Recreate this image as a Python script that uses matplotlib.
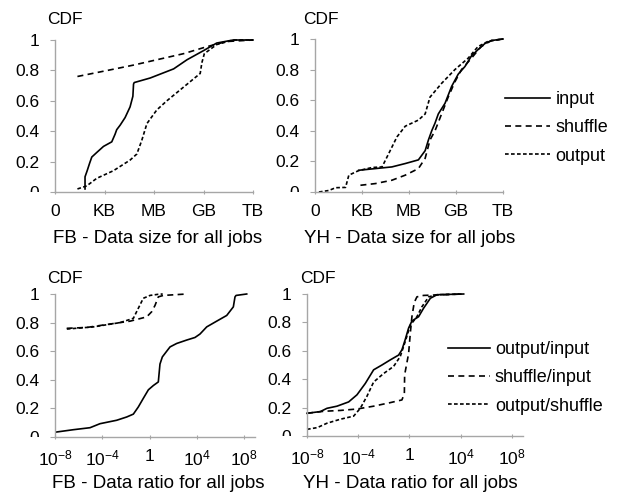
import matplotlib
matplotlib.use("Agg")
import matplotlib.pyplot as plt
from matplotlib.patches import Rectangle

plt.rcParams['font.family'] = ['Liberation Sans', 'DejaVu Sans']
plt.rcParams['mathtext.fontset'] = 'custom'
plt.rcParams['mathtext.rm'] = 'Liberation Sans'

# ---- data (x in log10 units, y = CDF) --------------------------------------
# FB - data size (log10 bytes)
fb_in_x = [1.82, 1.82, 1.95, 2.1, 2.23, 2.53, 2.94, 3.44, 3.64, 3.74, 3.95, 4.25, 4.55,
           4.72, 4.76, 4.8, 5.77, 7.19, 8.0, 9.0, 9.8, 10.8, 12.0]
fb_in_y = [0.02, 0.1, 0.14, 0.19, 0.23, 0.26, 0.30, 0.33, 0.38, 0.41, 0.44, 0.49, 0.56,
           0.63, 0.71, 0.72, 0.75, 0.81, 0.87, 0.93, 0.98, 1.0, 1.0]
fb_sh_x = [1.36, 2.73, 3.64, 4.76, 6.17, 7.79, 9.2, 10.4, 12.0]
fb_sh_y = [0.76, 0.79, 0.81, 0.835, 0.87, 0.91, 0.956, 0.99, 1.0]
fb_out_x = [1.36, 1.92, 2.53, 3.54, 4.55, 4.96, 5.26, 5.57, 6.17, 6.78, 7.79, 8.8, 8.9,
            9.05, 9.8, 10.8, 12.0]
fb_out_y = [0.02, 0.04, 0.09, 0.14, 0.21, 0.25, 0.34, 0.45, 0.54, 0.60, 0.69, 0.78, 0.85,
            0.91, 0.97, 1.0, 1.0]

# YH - data size (log10 bytes)
yh_in_x = [2.79, 3.85, 4.91, 5.76, 6.6, 7.03, 7.24, 7.45, 7.66, 7.87, 8.3, 8.72, 9.14,
           9.57, 9.99, 10.4, 10.84, 11.26, 12.0]
yh_in_y = [0.142, 0.153, 0.164, 0.186, 0.21, 0.27, 0.34, 0.40, 0.45, 0.51, 0.58, 0.69,
           0.77, 0.82, 0.89, 0.93, 0.97, 0.99, 1.0]
yh_sh_x = [2.9, 3.85, 4.91, 5.76, 6.6, 7.03, 7.34, 7.66, 8.08, 8.5, 8.93, 9.35, 9.99,
           10.6, 11.26, 12.0]
yh_sh_y = [0.044, 0.055, 0.077, 0.11, 0.153, 0.22, 0.34, 0.40, 0.51, 0.62, 0.72, 0.80,
           0.875, 0.95, 0.99, 1.0]
yh_out_x = [0.25, 0.89, 1.31, 1.95, 2.16, 2.79, 3.64, 4.28, 4.7, 5.23, 5.76, 6.6, 7.03,
            7.34, 8.08, 8.93, 9.78, 10.4, 11.05, 12.0]
yh_out_y = [0.0, 0.01, 0.028, 0.03, 0.11, 0.14, 0.16, 0.164, 0.25, 0.36, 0.43, 0.47, 0.51,
            0.62, 0.71, 0.80, 0.875, 0.95, 0.985, 1.0]

# FB - data ratio (log10 ratio)
fb_oi_x = [-7.86, -6.45, -5.04, -4.2, -2.79, -1.94, -1.38, -0.96, -0.54, -0.11, 0.31, 0.73,
           0.87, 1.07, 1.44, 1.72, 2.28, 3.13, 3.83, 4.25, 4.82, 5.66, 6.51, 7.07, 7.21,
           7.3, 8.2]
fb_oi_y = [0.035, 0.051, 0.065, 0.093, 0.117, 0.14, 0.16, 0.21, 0.27, 0.33, 0.36, 0.385,
           0.51, 0.56, 0.6, 0.63, 0.654, 0.678, 0.696, 0.72, 0.77, 0.81, 0.85, 0.91, 0.98,
           0.99, 1.0]
fb_si_x = [-7.01, -5.32, -3.35, -1.66, -0.25, 0.17, 0.45, 0.73, 1.15, 3.13]
fb_si_y = [0.76, 0.766, 0.79, 0.81, 0.84, 0.876, 0.92, 0.98, 0.99, 1.0]
fb_os_x = [-7.0, -4.76, -2.5, -1.38, -0.96, -0.54, 0.03, 0.73, 1.1]
fb_os_y = [0.755, 0.77, 0.80, 0.83, 0.90, 0.97, 0.99, 0.998, 1.0]

# YH - data ratio (log10 ratio)
yh_oi_x = [-8.0, -6.96, -6.44, -5.66, -4.75, -4.1, -3.45, -2.8, -2.15, -1.5, -0.85, -0.59,
           -0.33, -0.07, 0.19, 0.71, 1.1, 1.63, 2.15, 4.23]
yh_oi_y = [0.16, 0.172, 0.195, 0.21, 0.24, 0.29, 0.37, 0.466, 0.50, 0.536, 0.57, 0.607,
           0.68, 0.76, 0.81, 0.84, 0.90, 0.97, 0.995, 1.0]
yh_si_x = [-8.0, -6.7, -5.4, -4.1, -2.8, -1.5, -0.59, -0.4, -0.38, -0.07, 0.06, 0.19, 0.37,
           0.58, 1.1, 4.23]
yh_si_y = [0.16, 0.174, 0.18, 0.19, 0.21, 0.235, 0.254, 0.30, 0.43, 0.58, 0.72, 0.84, 0.94,
           0.98, 0.99, 1.0]
yh_os_x = [-8.0, -7.2, -6.44, -5.4, -4.36, -3.84, -3.32, -2.8, -2.02, -1.24, -0.72, -0.33,
           0.06, 0.58, 0.97, 1.5, 2.15, 4.23]
yh_os_y = [0.047, 0.059, 0.09, 0.118, 0.14, 0.195, 0.28, 0.38, 0.44, 0.49, 0.56, 0.666,
           0.78, 0.84, 0.91, 0.98, 0.995, 1.0]

size_ticks = [0, 3, 6, 9, 12]
size_labels = ['0', 'KB', 'MB', 'GB', 'TB']
ratio_ticks = [-8, -4, 0, 4, 8]
ratio_labels = ['$\\mathregular{10^{-8}}$', '$\\mathregular{10^{-4}}$', '1',
                '$\\mathregular{10^{4}}$', '$\\mathregular{10^{8}}$']
cdf_ticks = [0, 0.2, 0.4, 0.6, 0.8, 1]
cdf_labels = ['0', '0.2', '0.4', '0.6', '0.8', '1']
size_names = ['input', 'shuffle', 'output']
ratio_names = ['output/input', 'shuffle/input', 'output/shuffle']

# ---- figure ------------------------------------------------------------------
W, H = 618, 500
fig = plt.figure(figsize=(W / 100, H / 100), dpi=100)
FS_TICK = 12.5
FS_LAB = 13.5

def px_axes(x0, x1, ytop, ybot):
    return fig.add_axes([x0 / W, 1 - ybot / H, (x1 - x0) / W, (ybot - ytop) / H])

styles = [dict(ls='-'), dict(ls=(0, (3.6, 2.6))), dict(ls=(0, (2.2, 1.4)))]
gray = '#a6a6a6'

def style_axes(ax, xlim, ticks, labels):
    ax.set_xlim(*xlim)
    ax.set_ylim(0, 1)
    ax.set_yticks(cdf_ticks)
    ax.set_yticklabels(cdf_labels)
    ax.set_xticks(ticks)
    ax.set_xticklabels(labels)
    for s in ['top', 'right']:
        ax.spines[s].set_visible(False)
    for s in ['left', 'bottom']:
        ax.spines[s].set_color(gray)
        ax.spines[s].set_linewidth(1)
    ax.tick_params(axis='y', direction='out', length=3.5, color=gray, labelsize=FS_TICK, pad=8)
    ax.tick_params(axis='x', direction='inout', length=3, color=gray, labelsize=FS_TICK, pad=7)
    ax.patch.set_visible(False)
    # the "0" on the value axis is cut off at the bottom in the original
    clip = Rectangle((-1, 0), 3, 2, transform=ax.transAxes, visible=False)
    fig.add_artist(clip)
    ax.yaxis.get_major_ticks()[0].label1.set_clip_path(clip)

def draw(ax, series, names):
    for (xs, ys), st, nm in zip(series, styles, names):
        ax.plot(xs, ys, color='black', lw=1.2, label=nm, clip_on=False, **st)

def add_legend(ax, x0, yc, hl):
    ax.legend(loc='center left', bbox_to_anchor=(x0 / W, 1 - yc / H), bbox_transform=fig.transFigure,
              frameon=False, fontsize=13, handlelength=hl, handletextpad=0.3, labelspacing=0.62,
              borderaxespad=0, borderpad=0)

ax1 = px_axes(55, 253, 40, 192)
draw(ax1, [(fb_in_x, fb_in_y), (fb_sh_x, fb_sh_y), (fb_out_x, fb_out_y)], size_names)
style_axes(ax1, (0, 12), size_ticks, size_labels)

ax2 = px_axes(315, 503, 39, 192)
draw(ax2, [(yh_in_x, yh_in_y), (yh_sh_x, yh_sh_y), (yh_out_x, yh_out_y)], size_names)
style_axes(ax2, (0, 12), size_ticks, size_labels)
add_legend(ax2, 505, 128, 2.5)

ax3 = px_axes(55, 255, 294, 437)
draw(ax3, [(fb_oi_x, fb_oi_y), (fb_si_x, fb_si_y), (fb_os_x, fb_os_y)], ratio_names)
style_axes(ax3, (-8, 8.9), ratio_ticks, ratio_labels)

ax4 = px_axes(307, 523, 294, 436)
draw(ax4, [(yh_oi_x, yh_oi_y), (yh_si_x, yh_si_y), (yh_os_x, yh_os_y)], ratio_names)
style_axes(ax4, (-8, 8.86), ratio_ticks, ratio_labels)
add_legend(ax4, 448, 378, 2.3)

# axis titles and captions
for x, y in [(47, 24), (303, 24), (47, 283), (300, 283)]:
    fig.text(x / W, 1 - y / H, 'CDF', fontsize=FS_TICK, va='baseline')
captions = ['FB - Data size for all jobs', 'YH - Data size for all jobs',
            'FB - Data ratio for all jobs', 'YH - Data ratio for all jobs']
for txt, (x, y) in zip(captions, [(158, 243), (410, 243), (158, 488), (410, 488)]):
    fig.text(x / W, 1 - y / H, txt, fontsize=FS_LAB, ha='center', va='baseline')

fig.savefig('out.png', dpi=100)
